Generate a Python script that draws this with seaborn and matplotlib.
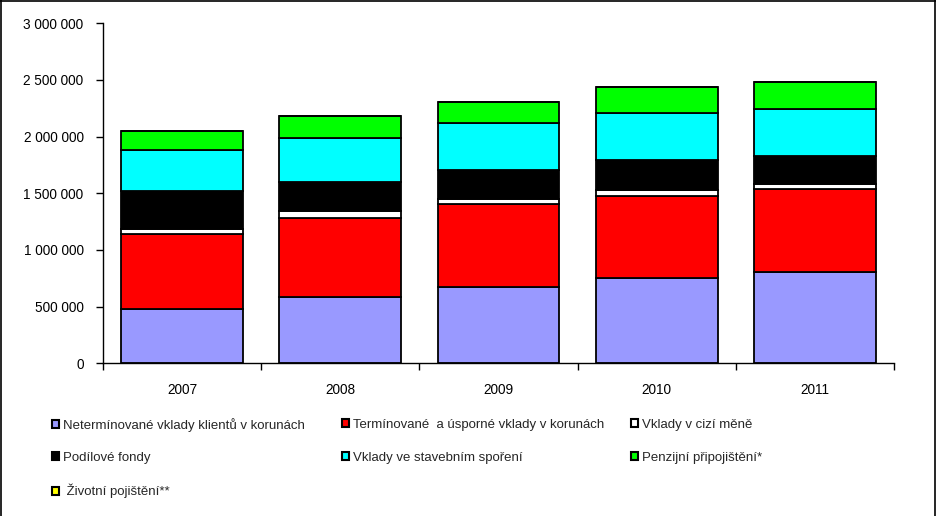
import matplotlib
matplotlib.use("Agg")
import matplotlib.pyplot as plt
import seaborn as sns
import numpy as np
from matplotlib.patches import Patch
from matplotlib.lines import Line2D
from matplotlib.ticker import FuncFormatter, FixedLocator

years = ["2007", "2008", "2009", "2010", "2011"]

netermin = [476000, 585000, 671000, 753000, 808000]
termin = [665000, 697000, 735000, 723000, 733000]
cizi = [44000, 65000, 44000, 53000, 41000]
podilove = [335000, 253000, 256000, 265000, 247000]
stavebni = [362000, 388000, 412000, 417000, 418000]
penzijni = [168000, 194000, 188000, 224000, 235000]
zivotni = [0, 0, 0, 0, 0]

series_names = [
    "Netermínované vklady klientů v korunách",
    "Termínované  a úsporné vklady v korunách",
    "Vklady v cizí měně",
    "Podílové fondy",
    "Vklady ve stavebním spoření",
    "Penzijní připojištění*",
    " Životní pojištění**",
]
series_values = [netermin, termin, cizi, podilove, stavebni, penzijni, zivotni]
series_colors = ["#9999FF", "#FF0000", "#FFFFFF", "#000000", "#00FFFF", "#00FF00", "#FFFF00"]

sns.set_theme(style="white")
plt.rcParams["font.family"] = ["Liberation Sans", "DejaVu Sans"]

fig = plt.figure(figsize=(9.36, 5.16), dpi=100)
fig.patch.set_facecolor("white")
ax = fig.add_axes([103 / 936, 1 - 363.3 / 516, (894 - 103) / 936, (363.3 - 23.3) / 516])

bottom = np.zeros(len(years))
for name, vals, col in zip(series_names, series_values, series_colors):
    sns.barplot(x=years, y=vals, bottom=bottom, color=col, saturation=1,
                edgecolor="black", linewidth=1.3, width=0.77, ax=ax)
    bottom = bottom + np.array(vals)

ax.set_xlim(-0.5, 4.5)
ax.set_ylim(0, 3000000)
ax.set_yticks(np.arange(0, 3000001, 500000))
ax.yaxis.set_major_formatter(FuncFormatter(lambda v, p: f"{v:,.0f}".replace(",", " ")))
ax.set_xlabel("")
ax.set_ylabel("")

for s in ["top", "right"]:
    ax.spines[s].set_visible(False)
for s in ["left", "bottom"]:
    ax.spines[s].set_color("black")
    ax.spines[s].set_linewidth(1.0)

ax.tick_params(axis="y", which="major", direction="out", length=5, width=1, color="black",
               pad=9, labelsize=9.8, labelcolor="black", left=True)
ax.xaxis.set_minor_locator(FixedLocator(np.arange(-0.5, 4.6, 1.0)))
ax.tick_params(axis="x", which="major", length=0, pad=14, labelsize=9.8, labelcolor="black")
ax.tick_params(axis="x", which="minor", direction="out", length=5, width=1, color="black", bottom=True)
ax.grid(False)

# legend entries laid out row-wise in three columns
handles = [Patch(facecolor=c, edgecolor="black", linewidth=1.5) for c in series_colors]
col_x = [52 / 936, 342 / 936, 631 / 936]
row_y = [425, 458, 491]
for i in range(len(series_names)):
    r, c = divmod(i, 3)
    fig.legend([handles[i]], [series_names[i]],
               loc="center left", bbox_to_anchor=(col_x[c], 1 - row_y[r] / 516),
               frameon=False, fontsize=9.5, handlelength=0.55, handleheight=0.55,
               handletextpad=0.25, borderpad=0, borderaxespad=0)

# outer border (left, top, right)
fig.add_artist(Line2D([0.5 / 936, 0.5 / 936], [0, 1], transform=fig.transFigure, color="black", lw=1.2))
fig.add_artist(Line2D([0, 1], [1 - 0.5 / 516, 1 - 0.5 / 516], transform=fig.transFigure, color="black", lw=1.2))
fig.add_artist(Line2D([934.5 / 936, 934.5 / 936], [0, 1], transform=fig.transFigure, color="black", lw=1.2))

fig.savefig("out.png", dpi=100, facecolor="white")
